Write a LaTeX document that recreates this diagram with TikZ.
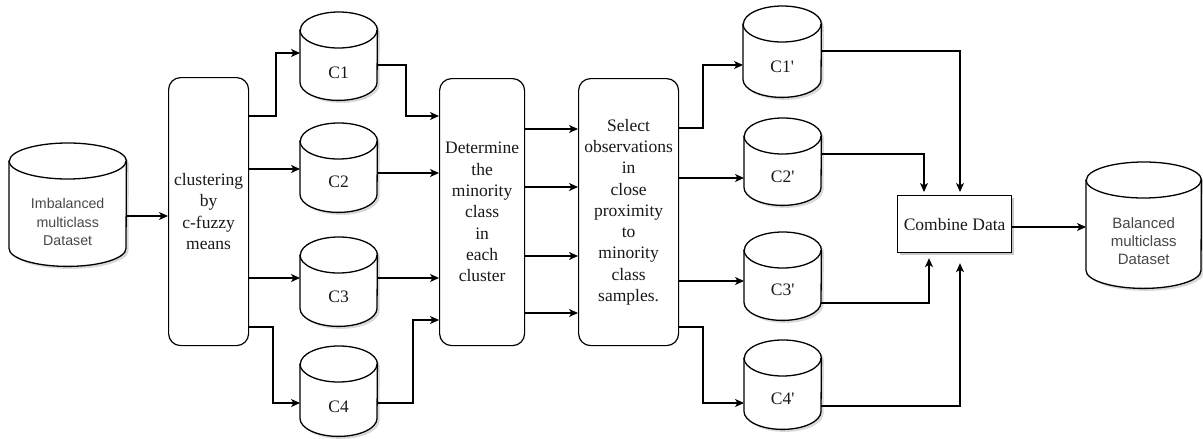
\documentclass[tikz,border=0pt]{standalone}
\usepackage{fontspec}
\setmainfont{Liberation Serif}
\newfontfamily\arialf{Liberation Sans}
\usetikzlibrary{arrows.meta,calc,shadows}
\tikzset{
  ln/.style={line width=1.2pt, draw=black},
  arr/.style={ln, -{Stealth[length=9pt,width=8pt,inset=2.5pt]}},
  cylbox/.style={rectangle, inner sep=0pt, draw=none},
  cylline/.style={line width=1.3pt, draw=black, fill=white},
  cylinner/.style={line width=1.3pt, draw=black},
  shade/.style={fill=black, opacity=0.15},
  serif/.style={font=\fontsize{17.5}{21.3}\selectfont, align=center, text=black!90, inner sep=0pt},
  sans/.style={font=\arialf\fontsize{14.2}{18.4}\selectfont, align=center, text=black!72, inner sep=0pt},
  sansb/.style={font=\arialf\fontsize{15}{18.2}\selectfont, align=center, text=black!72, inner sep=0pt},
  proc/.style={draw, line width=1.2pt, rounded corners=12pt, inner sep=0pt, anchor=north west, fill=white, serif},
  plain/.style={draw, line width=1.2pt, inner sep=0pt, anchor=north west, fill=white, serif,
    drop shadow={shadow xshift=2.5pt, shadow yshift=-2.5pt, opacity=0.22, fill=black}},
}
\newcommand{\cylpath}[2]{([shift={#2},yshift=-18pt]#1.north west) -- ([shift={#2},yshift=18pt]#1.south west)
  arc[start angle=180,end angle=360,x radius=\cylrx pt,y radius=18pt]
  -- ([shift={#2},yshift=-18pt]#1.north east)
  arc[start angle=0,end angle=180,x radius=\cylrx pt,y radius=18pt] -- cycle}
\newcommand{\dbcyl}[8]{%
  \node[cylbox, minimum width=#4, minimum height=#5, anchor=north west] (#1) at (#2,#3) {};
  \pgfmathsetmacro\cylrx{#4/2}
  \fill[shade] \cylpath{#1}{(2.5pt,-2.5pt)};
  \draw[cylline] \cylpath{#1}{(0pt,0pt)};
  \draw[cylinner] ([yshift=-18pt]#1.north west) arc[start angle=180,end angle=360,x radius=\cylrx pt,y radius=18pt];
  \node[#7] (#1t) at ([yshift=-#6pt]#1.north) {#8};
}
\begin{document}
\begin{tikzpicture}[x=1pt,y=-1pt]
\useasboundingbox (0,0) rectangle (1203,439);
% cylinders
\dbcyl{imb}{9}{143}{117}{123}{79}{sans}{Imbalanced\\multiclass\\Dataset}
\dbcyl{c1}{300}{12}{77}{88}{61}{serif}{C1}
\dbcyl{c2}{300}{123}{77}{89}{59}{serif}{C2}
\dbcyl{c3}{300}{237}{77}{89}{60}{serif}{C3}
\dbcyl{c4}{300}{346}{77}{90}{61}{serif}{C4}
\dbcyl{c1p}{743}{6}{78}{91}{61}{serif}{C1\textquotesingle}
\dbcyl{c2p}{744}{118}{77}{87}{59}{serif}{C2\textquotesingle}
\dbcyl{c3p}{744}{232}{77}{88}{58}{serif}{C3\textquotesingle}
\dbcyl{c4p}{744}{340}{77}{89}{59}{serif}{C4\textquotesingle}
\dbcyl{bal}{1086}{162}{115}{126}{79}{sansb}{Balanced\\multiclass\\Dataset}
% process boxes
\node[proc, minimum width=80, minimum height=268] (clus) at (168,77) {clustering\\by\\c-fuzzy\\means};
\node[proc, minimum width=85, minimum height=267] (det) at (439,78) {Determine\\the\\minority\\class\\in\\each\\cluster};
\node[proc, minimum width=100, minimum height=267] (sel) at (578,78) {Select\\observations\\in\\close\\proximity\\to\\minority\\class\\samples.};
\node[plain, minimum width=114, minimum height=57] (comb) at (897,195) {Combine Data};
% connectors
\draw[arr] (imb.east |- 0,216) -- (clus.west |- 0,216);
\draw[arr] (clus.east |- 0,116) -- (276,116) |- (c1.west |- 0,53);
\draw[arr] (clus.east |- 0,169) -- (c2.west |- 0,169);
\draw[arr] (clus.east |- 0,278) -- (c3.west |- 0,278);
\draw[arr] (clus.east |- 0,327) -- (273,327) |- (c4.west |- 0,403);
\draw[arr] (c1.east |- 0,65) -- (406,65) |- (det.west |- 0,116);
\draw[arr] (c2.east |- 0,173) -- (det.west |- 0,173);
\draw[arr] (c3.east |- 0,278) -- (det.west |- 0,278);
\draw[arr] (c4.east |- 0,403) -- (413,403) |- (det.west |- 0,320);
\foreach \yy in {129,187,256,313} \draw[arr] (det.east |- 0,\yy) -- (sel.west |- 0,\yy);
\draw[arr] (sel.east |- 0,128) -- (703,128) |- (c1p.west |- 0,65);
\draw[arr] (sel.east |- 0,178) -- (c2p.west |- 0,178);
\draw[arr] (sel.east |- 0,281) -- (c3p.west |- 0,281);
\draw[arr] (sel.east |- 0,327) -- (703,327) |- (c4p.west |- 0,403);
\draw[arr, shorten >=3pt] (c1p.east |- 0,51) -| (comb.north -| 960,0);
\draw[arr, shorten >=3pt] (c2p.east |- 0,154) -| (comb.north -| 924,0);
\draw[arr, shorten >=5pt] (c3p.east |- 0,303) -| (comb.south -| 929,0);
\draw[arr, shorten >=10pt] (c4p.east |- 0,406) -| (comb.south -| 960,0);
\draw[arr] (comb.east |- 0,227) -- (bal.west |- 0,227);
\end{tikzpicture}
\end{document}
